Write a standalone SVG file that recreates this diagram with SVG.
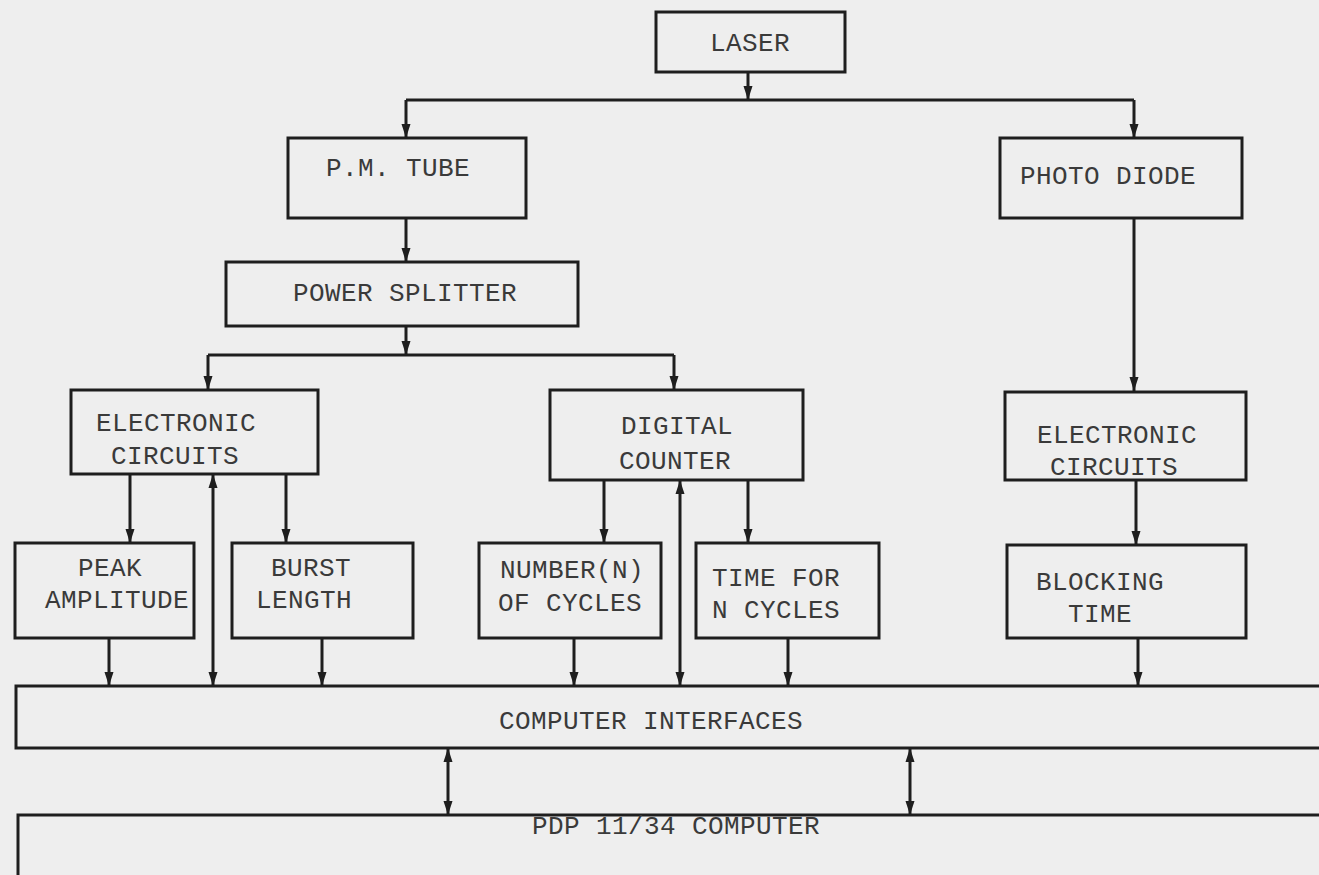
<svg xmlns="http://www.w3.org/2000/svg" width="1319" height="875" viewBox="0 0 1319 875">
<defs>
<marker id="ah" viewBox="0 0 14 10" refX="14" refY="5" markerWidth="14" markerHeight="10" markerUnits="userSpaceOnUse" orient="auto-start-reverse">
<path d="M0,0.5 L14,5 L0,9.5 Z" fill="#1e1e1e"/>
</marker>
<style>
.box{fill:none;stroke:#1e1e1e;stroke-width:3}
.t{font-family:"Liberation Mono",monospace;font-size:26px;letter-spacing:0.4px;fill:#3a3a3a;text-anchor:middle}
.ts{text-anchor:start}
.c{fill:none;stroke:#1e1e1e;stroke-width:3}
.a{marker-end:url(#ah)}
.b{marker-start:url(#ah);marker-end:url(#ah)}
</style>
</defs>
<rect x="0" y="0" width="1319" height="875" fill="#eeeeee"/>

<g id="connectors">
<path class="c a" d="M748,72 V100"/>
<path class="c" d="M406,100 H1134"/>
<path class="c a" d="M406,100 V138"/>
<path class="c a" d="M1134,100 V138"/>
<path class="c a" d="M406,218 V262"/>
<path class="c a" d="M406,326 V355"/>
<path class="c" d="M208,355 H674"/>
<path class="c a" d="M208,355 V390"/>
<path class="c a" d="M674,355 V390"/>
<path class="c a" d="M1134,218 V391"/>
<path class="c a" d="M130,474 V543"/>
<path class="c a" d="M286,474 V543"/>
<path class="c b" d="M213,474 V686"/>
<path class="c a" d="M604,480 V543"/>
<path class="c a" d="M748,480 V543"/>
<path class="c b" d="M680,480 V686"/>
<path class="c a" d="M1136,480 V545"/>
<path class="c a" d="M109,638 V686"/>
<path class="c a" d="M322,638 V686"/>
<path class="c a" d="M574,638 V686"/>
<path class="c a" d="M788,638 V686"/>
<path class="c a" d="M1138,638 V686"/>
<path class="c b" d="M448,748 V815"/>
<path class="c b" d="M910,748 V815"/>
</g>

<g id="laser"><rect class="box" x="656" y="12" width="189" height="60"/><text class="t" x="750" y="51">LASER</text></g>
<g id="pm-tube"><rect class="box" x="288" y="138" width="238" height="80"/><text class="t" x="398" y="176">P.M. TUBE</text></g>
<g id="photo-diode"><rect class="box" x="1000" y="138" width="242" height="80"/><text class="t" x="1108" y="184">PHOTO DIODE</text></g>
<g id="power-splitter"><rect class="box" x="226" y="262" width="352" height="64"/><text class="t" x="405" y="301">POWER SPLITTER</text></g>
<g id="electronic-circuits-left"><rect class="box" x="71" y="390" width="247" height="84"/><text class="t" x="176" y="431">ELECTRONIC</text><text class="t" x="175" y="464">CIRCUITS</text></g>
<g id="digital-counter"><rect class="box" x="550" y="390" width="253" height="90"/><text class="t" x="677" y="434">DIGITAL</text><text class="t" x="675" y="469">COUNTER</text></g>
<g id="electronic-circuits-right"><rect class="box" x="1005" y="392" width="241" height="88"/><text class="t" x="1117" y="443">ELECTRONIC</text><text class="t" x="1114" y="475">CIRCUITS</text></g>
<g id="peak-amplitude"><rect class="box" x="15" y="543" width="179" height="95"/><text class="t" x="110" y="576">PEAK</text><text class="t" x="117" y="608">AMPLITUDE</text></g>
<g id="burst-length"><rect class="box" x="232" y="543" width="181" height="95"/><text class="t" x="311" y="576">BURST</text><text class="t" x="304" y="608">LENGTH</text></g>
<g id="number-of-cycles"><rect class="box" x="479" y="543" width="182" height="95"/><text class="t" x="572" y="578">NUMBER(N)</text><text class="t" x="570" y="611">OF CYCLES</text></g>
<g id="time-for-n-cycles"><rect class="box" x="696" y="543" width="183" height="95"/><text class="t ts" x="712" y="586">TIME FOR</text><text class="t ts" x="712" y="618">N CYCLES</text></g>
<g id="blocking-time"><rect class="box" x="1007" y="545" width="239" height="93"/><text class="t ts" x="1036" y="590">BLOCKING</text><text class="t" x="1100" y="622">TIME</text></g>
<g id="computer-interfaces"><rect class="box" x="16" y="686" width="1320" height="62"/><text class="t" x="651" y="729">COMPUTER INTERFACES</text></g>
<g id="pdp-computer"><rect class="box" x="18" y="815" width="1320" height="80"/><text class="t" x="676" y="834">PDP 11/34 COMPUTER</text></g>
</svg>
